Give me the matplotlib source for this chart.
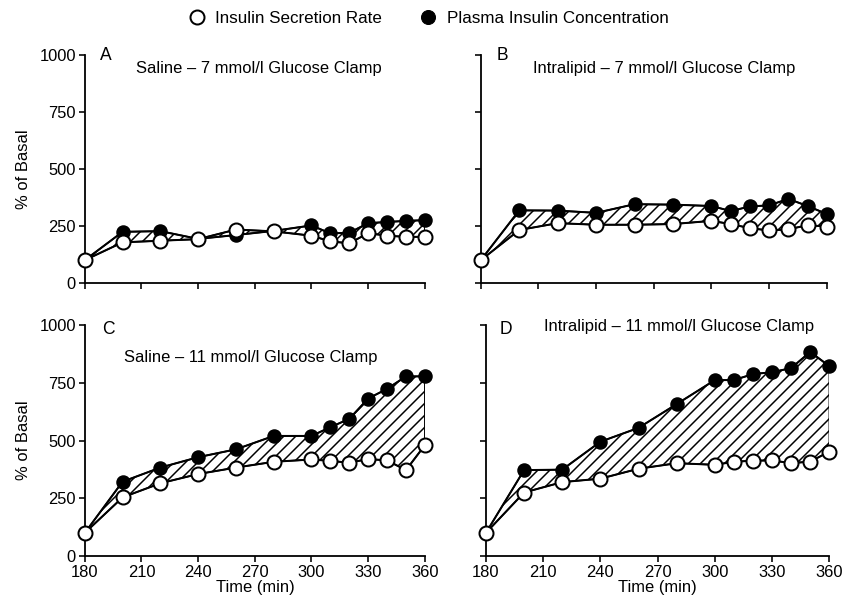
import numpy as np
import matplotlib
matplotlib.use("Agg")
from matplotlib import pyplot as plt
from matplotlib.lines import Line2D

plt.rcParams['font.family'] = ['Liberation Sans', 'DejaVu Sans']
plt.rcParams['hatch.linewidth'] = 1.5

# time points (min)
t = [180, 200, 220, 240, 260, 280, 300, 310, 320, 330, 340, 350, 360]

# % of basal
isr_a = [100, 178, 185, 192, 234, 226, 207, 182, 174, 218, 207, 202, 202]
pic_a = [100, 224, 227, 193, 210, 228, 252, 217, 220, 262, 267, 272, 275]
isr_b = [100, 232, 262, 255, 255, 258, 272, 258, 240, 230, 235, 253, 247]
pic_b = [100, 318, 317, 307, 345, 343, 337, 315, 335, 340, 368, 337, 302]
isr_c = [100, 254, 315, 355, 383, 408, 418, 412, 404, 420, 414, 372, 480]
pic_c = [100, 322, 383, 428, 462, 520, 520, 558, 594, 682, 724, 778, 778]
isr_d = [100, 275, 320, 335, 378, 402, 395, 408, 413, 414, 402, 409, 452]
pic_d = [100, 372, 374, 495, 555, 658, 762, 762, 788, 796, 814, 884, 822]

letters = ['A', 'B', 'C', 'D']
titles = ['Saline \u2013 7 mmol/l Glucose Clamp',
          'Intralipid \u2013 7 mmol/l Glucose Clamp',
          'Saline \u2013 11 mmol/l Glucose Clamp',
          'Intralipid \u2013 11 mmol/l Glucose Clamp']
yticks = [0, 250, 500, 750, 1000]
xticks = [180, 210, 240, 270, 300, 330, 360]

fig = plt.figure(figsize=(848 / 72, 606 / 72), dpi=72)

boxes = [(0.100, 0.533, 0.401, 0.377), (0.567, 0.533, 0.408, 0.377),
         (0.100, 0.0825, 0.401, 0.381), (0.573, 0.0825, 0.405, 0.381)]
data = [(isr_a, pic_a), (isr_b, pic_b), (isr_c, pic_c), (isr_d, pic_d)]
# placement in axes fraction
title_pos = [(0.15, 0.94), (0.15, 0.94), (0.115, 0.86), (0.17, 0.995)]
letter_pos = [(0.044, 1.035), (0.046, 1.035), (0.05, 1.02), (0.04, 1.02)]

for i, (box, (isr, pic)) in enumerate(zip(boxes, data)):
    ax = fig.add_axes(box)
    ax.fill_between(t, isr, pic, facecolor='white', edgecolor='black',
                    hatch='//', linewidth=1.6, zorder=1)
    ax.plot(t, pic, '-o', color='black', lw=2, ms=13, mfc='black',
            mec='black', mew=1.5, clip_on=False, zorder=3)
    ax.plot(t, isr, '-o', color='black', lw=2, ms=14, mfc='white',
            mec='black', mew=2, clip_on=False, zorder=4)
    ax.set_xlim(180, 360)
    ax.set_ylim(0, 1000)
    ax.set_xticks(xticks)
    ax.set_yticks(yticks)
    for s in ['top', 'right']:
        ax.spines[s].set_visible(False)
    for s in ['left', 'bottom']:
        ax.spines[s].set_linewidth(1.8)
    ax.tick_params(direction='out', length=6, width=1.6, labelsize=16.5, pad=3)
    if i < 2:
        ax.set_xticklabels([])
    else:
        ax.set_xlabel('Time (min)', fontsize=16.5, labelpad=0)
    if i % 2 == 1:
        ax.set_yticklabels([])
    else:
        ax.set_ylabel('% of Basal', fontsize=16.5, labelpad=8)
    ax.text(letter_pos[i][0], letter_pos[i][1], letters[i], transform=ax.transAxes,
            fontsize=17.5, va='top', ha='left')
    ax.text(title_pos[i][0], title_pos[i][1], titles[i], transform=ax.transAxes,
            fontsize=16.5, va='center', ha='left')

handles = [Line2D([], [], ls='none', marker='o', ms=14, mfc='white', mec='black', mew=2),
           Line2D([], [], ls='none', marker='o', ms=14, mfc='black', mec='black')]
fig.legend(handles, ['Insulin Secretion Rate', 'Plasma Insulin Concentration'],
           loc='center', bbox_to_anchor=(0.505, 0.970), ncol=2, frameon=False,
           fontsize=17, handlelength=1.0, handletextpad=0.6, columnspacing=2.2)

fig.savefig('out.png', dpi=72)
